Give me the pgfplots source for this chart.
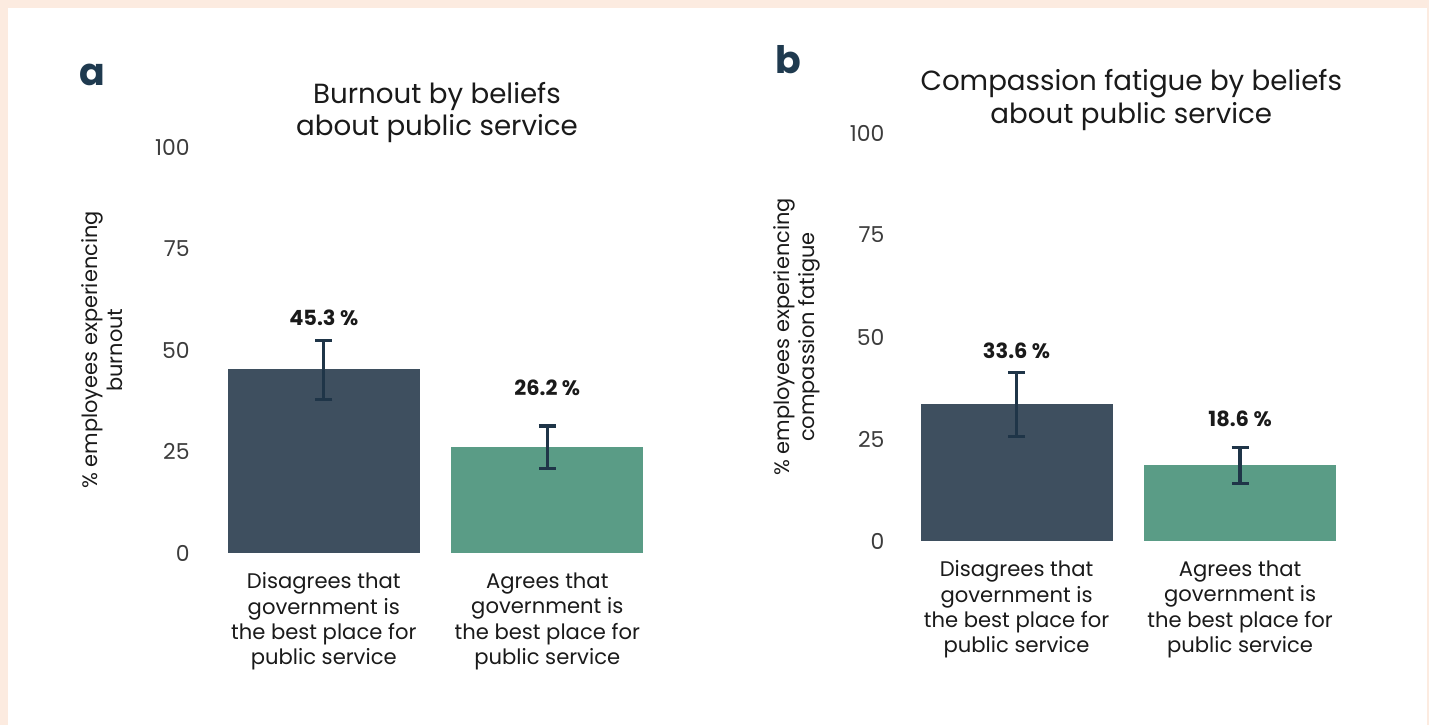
\documentclass[border=0pt]{standalone}
\usepackage{pgfplots}
\pgfplotsset{compat=1.18}
\usepackage{fontspec}
\setmainfont{Poppins}
\definecolor{peach}{HTML}{FCEBE0}
\definecolor{darkbar}{HTML}{3E4F5F}
\definecolor{greenbar}{HTML}{5A9C86}
\definecolor{errc}{HTML}{1F3548}
\definecolor{txt}{HTML}{1A1A1A}
\definecolor{lettc}{HTML}{1F3A4F}
\tikzset{vallab/.style={font=\bfseries\fontsize{10.5}{12}\selectfont, text=txt}}
\pgfplotsset{
  mypanel/.style={
    scale only axis, width=223.5bp, anchor=south west,
    xmin=-0.5, xmax=1.5, ymin=0, ymax=100,
    axis line style={draw=none}, major tick length=0pt,
    ytick={0,25,50,75,100},
    /pgf/number format/assume math mode=true,
    xtick={0,1},
    xticklabels={{Disagrees that\\government is\\the best place for\\public service},{Agrees that\\government is\\the best place for\\public service}},
    xticklabel style={align=center, anchor=center, yshift=-34.25bp, font=\fontsize{10.6}{12.75}\selectfont, text=txt},
    yticklabel style={anchor=east, inner sep=0pt, font=\fontsize{11}{13}\selectfont, text=txt!85},
    title style={align=center, at={(0.5,1)}, anchor=center, font=\fontsize{13.9}{16.5}\selectfont, text=txt},
    ylabel style={align=center, anchor=center, font=\fontsize{10.5}{12.5}\selectfont, text=txt},
    clip=false,
  },
  mybar/.style={ybar, bar shift=0pt, bar width=96bp, draw=none, fill=#1,
      error bars/.cd, y dir=both, y explicit,
      error bar style={line width=1.6bp, color=errc},
      error mark options={rotate=90, mark size=4.25bp, line width=1.6bp, color=errc}},
}
\begin{document}
\begin{tikzpicture}
\fill[peach] (0,0) rectangle (714.5bp,362.5bp);
\fill[white] (4bp,0) rectangle (713.5bp,358.5bp);
\node[font=\bfseries\fontsize{19}{22}\selectfont, text=lettc] at (46bp,325bp) {a};
\node[font=\bfseries\fontsize{19}{22}\selectfont, text=lettc] at (394bp,332.5bp) {b};
\begin{axis}[mypanel, at={(106bp,86bp)}, height=203bp,
  title={Burnout by beliefs\\about public service},
  title style={yshift=11.25bp, xshift=0.75bp},
  yticklabel style={xshift=-11bp},
  ylabel={\% employees experiencing\\burnout},
  ylabel style={at={(axis description cs:-0.246,0.5)}},
]
\addplot[mybar=darkbar] coordinates {(0,45.3) += (0,7.0) -= (0,7.4)};
\addplot[mybar=greenbar] coordinates {(1,26.2) += (0,5.1) -= (0,5.3)};
\node[vallab] at (axis cs:0,57.9) {45.3 \%};
\node[vallab] at (axis cs:1,40.6) {26.2 \%};
\end{axis}
\begin{axis}[mypanel, at={(452.4bp,92bp)}, height=204bp,
  title={Compassion fatigue by beliefs\\about public service},
  title style={yshift=10.5bp, xshift=1.5bp},
  yticklabel style={xshift=-10bp},
  ylabel={\% employees experiencing\\compassion fatigue},
  ylabel style={at={(axis description cs:-0.241,0.5)}},
]
\addplot[mybar=darkbar] coordinates {(0,33.6) += (0,7.7) -= (0,7.9)};
\addplot[mybar=greenbar] coordinates {(1,18.6) += (0,4.4) -= (0,4.6)};
\node[vallab] at (axis cs:0,46.6) {33.6 \%};
\node[vallab] at (axis cs:1,29.9) {18.6 \%};
\end{axis}
\pgfresetboundingbox
\path (0,0) rectangle (714.5bp,362.5bp);
\end{tikzpicture}
\end{document}
